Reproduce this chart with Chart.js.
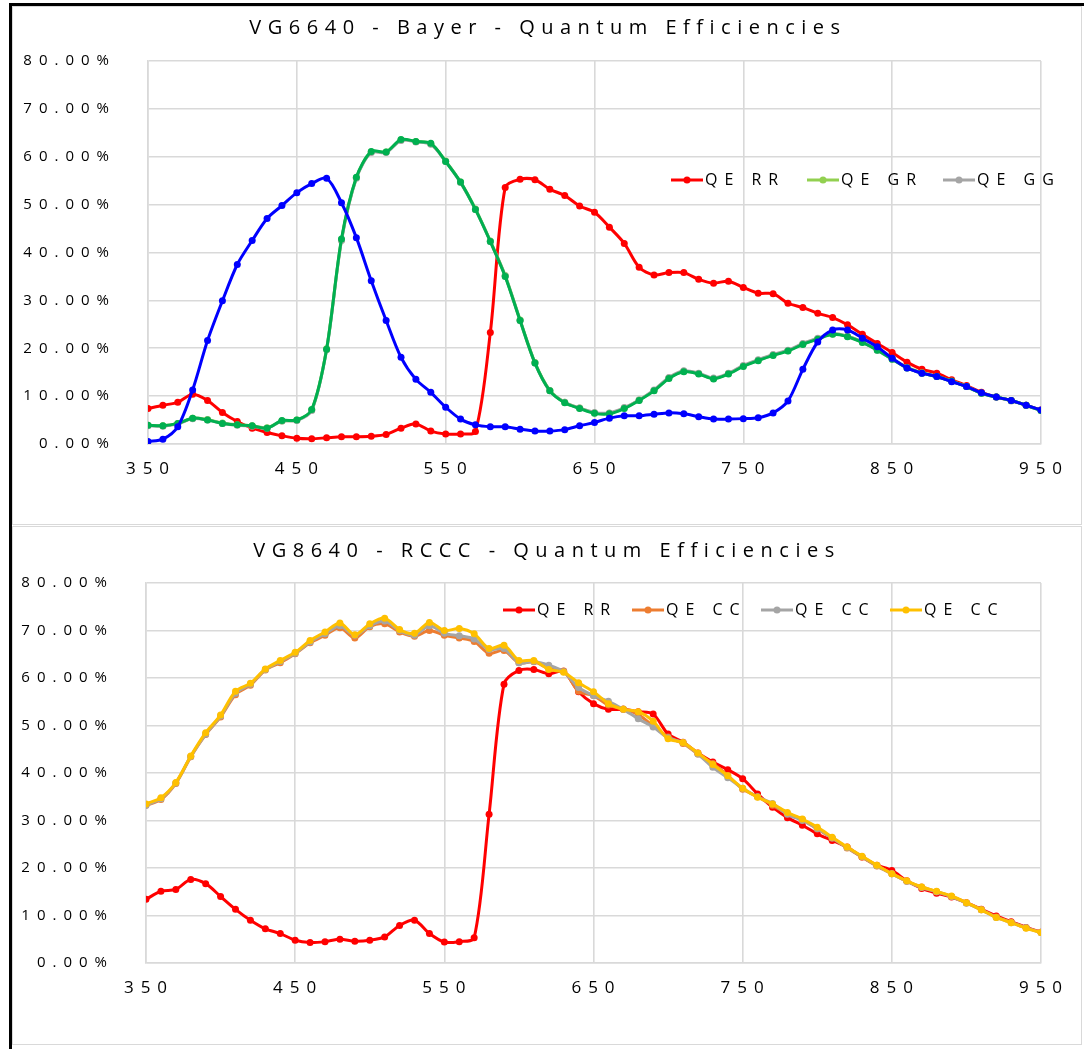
<!DOCTYPE html>
<html>
<head>
<meta charset="utf-8">
<script src="https://cdn.jsdelivr.net/npm/chart.js@4.4.0/dist/chart.umd.min.js"></script>
<style>
  body { margin: 0; background: #fff; }
  #frame { position: absolute; left: 9px; top: 3px; width: 1075px; height: 1046px; border-top: 3px solid #000; border-left: 3px solid #000; }
  .box { position: absolute; left: 12px; width: 1068px; height: 517px; border: 1px solid #d9d9d9; background: #fff; }
  #box1 { top: 6px; }
  #box2 { top: 526px; }
</style>
</head>
<body>
<div id="frame"></div>
<div class="box" id="box1"><canvas id="bayerChart"></canvas></div>
<div class="box" id="box2"><canvas id="rcccChart"></canvas></div>
<script>
const wavelengths = [350, 360, 370, 380, 390, 400, 410, 420, 430, 440, 450, 460, 470, 480, 490, 500,
  510, 520, 530, 540, 550, 560, 570, 580, 590, 600, 610, 620, 630, 640, 650, 660, 670, 680, 690, 700,
  710, 720, 730, 740, 750, 760, 770, 780, 790, 800, 810, 820, 830, 840, 850, 860, 870, 880, 890, 900,
  910, 920, 930, 940, 950];

// VG6640 Bayer (values in %)
const bayerRR = [7.4, 8.1, 8.7, 10.4, 9.1, 6.6, 4.7, 3.3, 2.4, 1.7, 1.2, 1.1, 1.3, 1.5, 1.5, 1.6,
  2.0, 3.3, 4.2, 2.7, 2.1, 2.1, 2.6, 23.3, 53.6, 55.3, 55.2, 53.2, 51.9, 49.7, 48.4, 45.3, 41.9, 36.9, 35.3, 35.8,
  35.8, 34.4, 33.6, 34.0, 32.7, 31.5, 31.4, 29.4, 28.5, 27.3, 26.4, 24.9, 22.9, 21.0, 19.1, 17.1, 15.6, 14.8, 13.4, 12.2,
  10.8, 9.8, 9.1, 8.1, 7.1];
const bayerGR = [3.9, 3.8, 4.3, 5.4, 5.1, 4.4, 4.0, 3.8, 3.4, 4.8, 5.0, 7.1, 19.9, 42.6, 55.6, 61.0,
  61.0, 63.5, 63.2, 62.7, 59.1, 54.7, 49.1, 42.4, 35.2, 25.9, 17.0, 11.2, 8.7, 7.5, 6.5, 6.4, 7.5, 9.2, 11.2, 13.8,
  15.2, 14.7, 13.7, 14.7, 16.3, 17.5, 18.6, 19.5, 20.9, 22.0, 23.0, 22.5, 21.3, 19.7, 17.8, 16.0, 14.9, 14.1, 13.1, 12.0,
  10.6, 9.8, 9.1, 8.1, 7.0];
const bayerGG = [3.8, 3.7, 4.2, 5.3, 5.0, 4.3, 3.9, 3.7, 3.3, 4.8, 4.9, 7.0, 19.7, 42.5, 55.5, 60.9,
  60.9, 63.4, 63.1, 62.6, 59.0, 54.6, 49.0, 42.3, 35.1, 25.8, 16.9, 11.1, 8.7, 7.5, 6.6, 6.5, 7.6, 9.2, 11.3, 13.9,
  15.3, 14.8, 13.8, 14.8, 16.4, 17.6, 18.7, 19.6, 21.0, 22.1, 23.1, 22.5, 21.3, 19.6, 17.7, 15.9, 14.8, 14.1, 13.1, 12.0,
  10.6, 9.8, 9.0, 8.1, 7.0];
const bayerGB = [3.9, 3.8, 4.3, 5.4, 5.0, 4.3, 4.0, 3.8, 3.3, 4.9, 5.0, 7.2, 19.8, 42.8, 55.7, 61.1,
  61.0, 63.6, 63.2, 62.8, 59.0, 54.7, 49.0, 42.3, 35.0, 25.8, 16.9, 11.1, 8.6, 7.4, 6.4, 6.3, 7.4, 9.1, 11.1, 13.7,
  15.1, 14.6, 13.6, 14.6, 16.2, 17.4, 18.5, 19.4, 20.8, 21.9, 22.9, 22.4, 21.2, 19.6, 17.7, 15.9, 14.8, 14.1, 13.1, 12.0,
  10.6, 9.8, 9.1, 8.1, 7.0];
const bayerBB = [0.5, 1.0, 3.6, 11.3, 21.6, 29.9, 37.5, 42.5, 47.1, 49.8, 52.5, 54.4, 55.5, 50.4, 43.1, 34.1,
  25.8, 18.1, 13.5, 10.8, 7.7, 5.2, 4.0, 3.6, 3.6, 3.1, 2.7, 2.7, 3.0, 3.8, 4.5, 5.4, 5.9, 5.9, 6.2, 6.5,
  6.3, 5.7, 5.2, 5.2, 5.3, 5.5, 6.5, 9.0, 15.6, 21.3, 23.8, 23.8, 22.1, 20.3, 17.9, 15.9, 14.8, 14.1, 13.0, 12.0,
  10.7, 9.8, 9.1, 8.1, 7.1];

// VG8640 RCCC (values in %)
const rcccRR = [13.4, 15.1, 15.5, 17.6, 16.7, 14.0, 11.3, 9.0, 7.2, 6.2, 4.8, 4.3, 4.5, 5.0, 4.6, 4.8,
  5.5, 7.9, 9.0, 6.2, 4.4, 4.5, 5.3, 31.3, 58.7, 61.6, 61.8, 60.9, 61.4, 57.1, 54.6, 53.4, 53.4, 52.9, 52.4, 48.2,
  46.5, 44.2, 42.3, 40.7, 38.8, 35.6, 32.8, 30.6, 29.0, 27.2, 25.8, 24.4, 22.3, 20.6, 19.5, 17.3, 15.7, 14.7, 13.9, 12.7,
  11.3, 9.9, 8.7, 7.5, 6.5];
const rcccCC1 = [33.2, 34.4, 37.8, 43.4, 48.1, 51.8, 56.5, 58.5, 61.7, 63.2, 65.1, 67.4, 69.0, 70.6, 68.4, 70.8,
  71.4, 69.7, 68.8, 70.0, 69.0, 68.4, 67.7, 65.2, 65.8, 63.2, 63.4, 62.0, 61.5, 57.2, 56.3, 54.3, 53.5, 52.3, 49.9, 47.6,
  46.2, 44.0, 42.0, 39.5, 36.6, 35.0, 33.2, 31.5, 30.2, 28.2, 26.3, 24.2, 22.3, 20.4, 18.8, 17.2, 16.0, 15.0, 14.0, 12.7,
  11.2, 9.7, 8.6, 7.4, 6.5];
const rcccCC2 = [33.2, 34.6, 37.9, 43.5, 48.2, 52.0, 56.8, 58.7, 61.8, 63.5, 65.2, 67.6, 69.3, 71.0, 69.0, 71.0,
  72.0, 70.0, 69.0, 71.0, 69.4, 68.9, 68.2, 66.0, 66.2, 63.2, 63.5, 62.7, 61.3, 58.0, 56.3, 55.1, 53.4, 51.4, 49.7, 47.4,
  46.4, 44.0, 41.2, 39.0, 36.8, 35.0, 33.6, 31.3, 30.0, 28.3, 26.3, 24.3, 22.4, 20.5, 18.8, 17.2, 15.9, 15.0, 14.0, 12.6,
  11.2, 9.6, 8.5, 7.4, 6.4];
const rcccCC3 = [33.5, 34.8, 38.0, 43.6, 48.5, 52.2, 57.2, 58.9, 61.9, 63.7, 65.4, 67.9, 69.7, 71.6, 69.1, 71.4,
  72.6, 70.2, 69.4, 71.7, 70.0, 70.4, 69.3, 66.2, 66.9, 63.7, 63.7, 61.8, 61.2, 59.0, 57.1, 54.6, 53.4, 52.9, 50.9, 47.2,
  46.4, 44.2, 41.8, 39.4, 36.8, 34.9, 33.5, 31.7, 30.3, 28.6, 26.5, 24.4, 22.5, 20.6, 18.8, 17.3, 16.0, 15.1, 14.1, 12.7,
  11.2, 9.6, 8.5, 7.3, 6.4];

const bayerNames = ['QE RR', 'QE GR', 'QE GG', 'QE GB', 'QE BB'];
const rcccNames = ['QE RR', 'QE CC', 'QE CC', 'QE CC'];

Chart.defaults.font.family = '"Open Sans", sans-serif';
Chart.defaults.color = '#000';

// wide letter spacing like the original export, per text block
function spaced(obj, method, sp, dx) {
  if (!obj || obj['_sp_' + method]) return;
  const fn = obj[method];
  obj[method] = function (...a) {
    this.ctx.save();
    this.ctx.letterSpacing = sp + 'px';
    this.ctx.translate(dx || 0, 0);
    fn.apply(this, a);
    this.ctx.restore();
  };
  obj['_sp_' + method] = true;
}
const spacing = {
  id: 'spacing',
  afterLayout(chart, args, opts) {
    spaced(chart.titleBlock, 'draw', opts.title, opts.titleShift);
    spaced(chart.scales.x, 'drawLabels', opts.x, 3);
    spaced(chart.scales.y, 'drawLabels', opts.y, 0);
  }
};

// Excel style legend drawn inside the plot area
const lineLegend = {
  id: 'lineLegend',
  afterDraw(chart, args, opts) {
    const ctx = chart.ctx;
    const area = chart.chartArea;
    const sets = chart.data.datasets.filter(d => d.inLegend);
    let x = area.left + opts.left;
    const y = area.top + opts.top;
    ctx.save();
    ctx.letterSpacing = '7px';
    ctx.font = '16px "Open Sans", sans-serif';
    ctx.textBaseline = 'middle';
    sets.forEach(d => {
      ctx.strokeStyle = d.borderColor;
      ctx.lineWidth = 3;
      ctx.beginPath();
      ctx.moveTo(x, y);
      ctx.lineTo(x + 32, y);
      ctx.stroke();
      ctx.fillStyle = d.borderColor;
      ctx.beginPath();
      ctx.arc(x + 16, y, 3.5, 0, Math.PI * 2);
      ctx.fill();
      ctx.fillStyle = '#000';
      ctx.fillText(d.label, x + 34, y);
      x += opts.pitch;
    });
    ctx.restore();
  }
};

function series(label, data, color, i, inLegend) {
  return {
    label, data, inLegend,
    borderColor: color,
    backgroundColor: color,
    pointBackgroundColor: color,
    pointBorderColor: color,
    borderWidth: 3,
    pointRadius: 3.5,
    pointBorderWidth: 0,
    tension: 0.3,
    order: -i
  };
}

function makeChart(id, title, titlePad, titleShift, datasets, area, legendPos) {
  const chart = new Chart(document.getElementById(id), {
    type: 'line',
    data: { labels: wavelengths, datasets },
    plugins: [spacing, lineLegend],
    options: {
      responsive: true,
      maintainAspectRatio: false,
      animation: false,
      layout: { padding: { left: 0, right: 40, top: 0, bottom: 0 } },
      plugins: {
        legend: { display: false },
        tooltip: { enabled: false },
        title: {
          display: true,
          text: title,
          font: { size: 20, weight: 'normal' },
          padding: titlePad
        },
        spacing: { title: 6.5, titleShift, x: 7, y: 7 },
        lineLegend: legendPos
      },
      scales: {
        x: {
          type: 'linear',
          min: 350, max: 950,
          afterFit: s => { s.height = area.bottom; },
          ticks: { stepSize: 100, font: { size: 17 }, padding: 15, color: '#000' },
          grid: { color: '#d9d9d9', lineWidth: 1.6, drawTicks: false },
          border: { color: '#d9d9d9', width: 1.6 }
        },
        y: {
          min: 0, max: 80,
          afterFit: s => { s.width = area.left; },
          ticks: {
            stepSize: 10, font: { size: 15 }, padding: 32, color: '#000',
            callback: v => v.toFixed(2) + '%'
          },
          grid: { color: '#d9d9d9', lineWidth: 1.6, drawTicks: false },
          border: { color: '#d9d9d9', width: 1.6 }
        }
      }
    }
  });
  chart.update();
  return chart;
}

makeChart('bayerChart', 'VG6640 - Bayer - Quantum Efficiencies', { top: 9, bottom: 21 }, 21, [
  series(bayerNames[0], bayerRR, '#ff0000', 0, true),
  series(bayerNames[1], bayerGR, '#92d050', 1, true),
  series(bayerNames[2], bayerGG, '#a5a5a5', 2, true),
  series(bayerNames[3], bayerGB, '#00b050', 3, false),
  series(bayerNames[4], bayerBB, '#0000ff', 4, false)
], { left: 135, bottom: 80 }, { left: 523, top: 119, pitch: 136 });

makeChart('rcccChart', 'VG8640 - RCCC - Quantum Efficiencies', { top: 12, bottom: 20 }, 20, [
  series(rcccNames[0], rcccRR, '#ff0000', 0, true),
  series(rcccNames[1], rcccCC1, '#ed7d31', 1, true),
  series(rcccNames[2], rcccCC2, '#a5a5a5', 2, true),
  series(rcccNames[3], rcccCC3, '#ffc000', 3, true)
], { left: 133, bottom: 81 }, { left: 357, top: 27, pitch: 129 });
</script>
</body>
</html>
